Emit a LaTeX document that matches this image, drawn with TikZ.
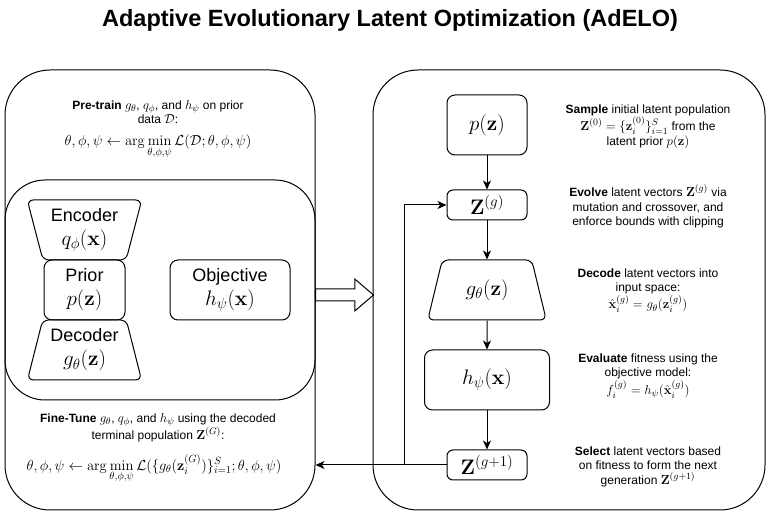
\RequirePackage{fix-cm}
\documentclass[tikz,border=0pt]{standalone}
\usepackage[no-math]{fontspec}
\setmainfont{Liberation Sans}
\usepackage{amsmath}
\usetikzlibrary{shapes.geometric,shapes.arrows,arrows.meta}
\DeclareMathSizes{12}{13}{9.5}{7}
\DeclareMathSizes{14}{14.5}{10.5}{7.5}
\DeclareMathSizes{18}{21}{15}{11}

\begin{document}
\begin{tikzpicture}[x=1pt,y=-1pt,line width=1pt,
  panel/.style = {draw, rounded corners=45pt},
  box/.style = {draw, rounded corners=8pt, align=center, font=\fontsize{18}{24}\selectfont},
  trap/.style = {draw, trapezium, trapezium stretches=true, rounded corners=6pt, align=center, inner sep=0pt, font=\fontsize{18}{24}\selectfont},
  note/.style = {align=center, font=\fontsize{12}{14.5}\selectfont},
  loss/.style = {font=\fontsize{14}{17}\selectfont},
  arr/.style = {-{Stealth[length=9pt,width=8pt,inset=2.5pt]}}]
\useasboundingbox (0,0) rectangle (772,518);
\node[font=\bfseries\fontsize{23.5}{28}\selectfont] (title) at (390,20) {Adaptive Evolutionary Latent Optimization (AdELO)};

\node[panel, minimum width=310pt, minimum height=440pt] (train) at (160,290) {};
\node[panel, rounded corners=40pt, minimum width=310pt, minimum height=220pt] (models) at (160,290) {};
\node[panel, minimum width=392pt, minimum height=440pt] (search) at (569,290) {};
\node[draw, single arrow, single arrow head extend=10pt, single arrow tip angle=81, inner sep=0pt, inner ysep=5.5pt, minimum height=58pt, anchor=west] (flow) at (315,295) {};

\node[note] (pretext) at (158,112) {\textbf{Pre-train} $g_\theta$, $q_\phi$, and $h_\psi$ on prior\\ data $\mathcal{D}$:};
\node[loss] (preloss) at (158,147) {$\displaystyle \theta,\phi,\psi \leftarrow \arg\min_{\theta,\phi,\psi}\mathcal{L}(\mathcal{D};\theta,\phi,\psi)$};
\node[trap, shape border rotate=180, trapezium angle=73.7, minimum width=115pt, minimum height=60pt] (enc) at (84.5,230) {Encoder\\ $q_\phi(\mathbf{x})$};
\node[box, minimum width=81pt, minimum height=60pt] (prior) at (84.5,290) {Prior\\ $p(\mathbf{z})$};
\node[trap, trapezium angle=73.7, minimum width=115pt, minimum height=60pt] (dec) at (84.5,350) {Decoder\\ $g_\theta(\mathbf{z})$};
\node[box, minimum width=120pt, minimum height=60pt] (obj) at (230,290) {Objective\\ $h_\psi(\mathbf{x})$};
\node[note] (finetext) at (158,428) {\textbf{Fine-Tune} $g_\theta$, $q_\phi$, and $h_\psi$ using the decoded\\ terminal population $\mathbf{Z}^{(G)}$:};
\node[loss] (fineloss) at (154,469) {$\displaystyle \theta,\phi,\psi \leftarrow \arg\min_{\theta,\phi,\psi}\mathcal{L}(\{g_\theta(\mathbf{z}_i^{(G)})\}_{i=1}^S;\theta,\phi,\psi)$};

\node[box, minimum width=80pt, minimum height=60pt] (prior2) at (487,125) {$p(\mathbf{z})$};
\node[box, rounded corners=6pt, minimum width=80pt, minimum height=30pt, inner sep=0pt] (zg) at (487,205) {$\mathbf{Z}^{(g)}$};
\node[trap, trapezium angle=71.6, minimum width=119pt, minimum height=60pt] (decode) at (487,290) {$g_\theta(\mathbf{z})$};
\node[box, minimum width=125pt, minimum height=60pt] (eval) at (487,380) {$h_\psi(\mathbf{x})$};
\node[box, rounded corners=6pt, minimum width=80pt, minimum height=30pt, inner sep=0pt] (zg1) at (487,465) {$\mathbf{Z}^{(g+1)}$};
\coordinate (turn) at (404,465);

\node[note] (sample) at (648,126.5) {\textbf{Sample} initial latent population\\ $\mathbf{Z}^{(0)}=\{\mathbf{z}_i^{(0)}\}_{i=1}^S$ from the\\ latent prior $p(\mathbf{z})$};
\node[note] (evolve) at (648,206.5) {\textbf{Evolve} latent vectors $\mathbf{Z}^{(g)}$ via\\ mutation and crossover, and\\ enforce bounds with clipping};
\node[note] (decodetext) at (648,290.5) {\textbf{Decode} latent vectors into\\ input space:\\ $\hat{\mathbf{x}}_i^{(g)} = g_\theta(\mathbf{z}_i^{(g)})$};
\node[note] (evaltext) at (648,376) {\textbf{Evaluate} fitness using the\\ objective model:\\ $f_i^{(g)} = h_\psi(\hat{\mathbf{x}}_i^{(g)})$};
\node[note] (select) at (648,466.5) {\textbf{Select} latent vectors based\\ on fitness to form the next\\ generation $\mathbf{Z}^{(g+1)}$};

\draw[arr] (prior2) -- (zg);
\draw[arr] (zg) -- (decode);
\draw[arr] (decode) -- (eval);
\draw[arr] (eval) -- (zg1);
\draw[arr] (zg1.west) -- (zg1.west -| train.east);
\draw[arr] (turn) |- (zg.west);
\end{tikzpicture}
\end{document}
